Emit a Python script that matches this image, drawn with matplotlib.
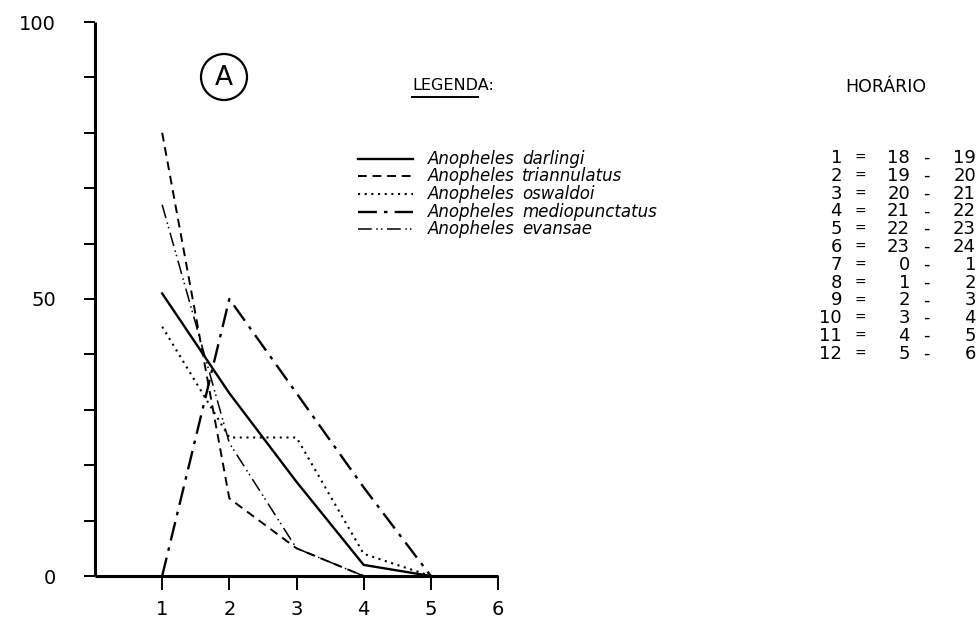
import matplotlib
matplotlib.use("Agg")
import matplotlib.pyplot as plt
from matplotlib.lines import Line2D
from matplotlib.patches import Ellipse

# ---- data ----
x_hours = [1, 2, 3, 4, 5]
species = ["darlingi", "triannulatus", "oswaldoi", "mediopunctatus", "evansae"]
darlingi = [51, 33, 17, 2, 0]
triannulatus = [80, 14, 5, 0, 0]
oswaldoi = [45, 25, 25, 4, 0]
mediopunctatus = [0, 50, 33, 16, 0]
evansae = [67, 24, 5, 0, 0]
series = [darlingi, triannulatus, oswaldoi, mediopunctatus, evansae]

x_ticks = [1, 2, 3, 4, 5, 6]
y_ticks = [0, 10, 20, 30, 40, 50, 60, 70, 80, 90, 100]
y_labels = ["0", "", "", "", "", "50", "", "", "", "", "100"]

hour_index = [1, 2, 3, 4, 5, 6, 7, 8, 9, 10, 11, 12]
start_hours = [18, 19, 20, 21, 22, 23, 0, 1, 2, 3, 4, 5]
end_hours = [19, 20, 21, 22, 23, 24, 1, 2, 3, 4, 5, 6]

# ---- styles ----
styles = [
    dict(ls="-", lw=1.7),
    dict(ls=(0, (4.5, 3)), lw=1.4),
    dict(ls=(0, (1, 2.2)), lw=1.5),
    dict(ls=(0, (8, 3, 1.5, 3)), lw=1.7),
    dict(ls=(0, (9, 3, 1, 2, 1, 3)), lw=1.1),
]

W, H = 979, 622
fig = plt.figure(figsize=(W / 100, H / 100), dpi=100)
plt.rcParams["font.family"] = ["DejaVu Sans"]

def fx(px):
    return px / W

def fy(py):
    return 1 - py / H

ax = fig.add_axes([fx(95), fy(576), fx(498) - fx(95), fy(22) - fy(576)])
ax.set_xlim(0, 6)
ax.set_ylim(0, 100)
for s, st in zip(series, styles):
    ax.plot(x_hours, s, color="black", solid_joinstyle="miter", **st)

for sp in ["top", "right"]:
    ax.spines[sp].set_visible(False)
for sp in ["left", "bottom"]:
    ax.spines[sp].set_linewidth(2.2)
    ax.spines[sp].set_capstyle("butt")
ax.set_xticks(x_ticks)
ax.set_xticklabels([str(v) for v in x_ticks], fontsize=14)
ax.set_yticks(y_ticks)
ax.set_yticklabels(y_labels, fontsize=14)
ax.tick_params(axis="y", direction="out", length=8, width=1.4, pad=20)
ax.tick_params(axis="x", direction="out", length=10, width=1.4, pad=7)
ax.patch.set_visible(False)

# circled A
fig.patches.append(Ellipse((fx(224), fy(77)), 46 / W, 46 / H, transform=fig.transFigure,
                           fill=False, ec="black", lw=1.6))
fig.text(fx(224), fy(78), "A", ha="center", va="center", fontsize=19)

# legend
fig.text(fx(412), fy(85), "LEGENDA:", ha="left", va="center", fontsize=11.5)
fig.add_artist(Line2D([fx(412), fx(478)], [fy(97), fy(97)], color="black", lw=1.4,
                      transform=fig.transFigure))
row_y = [159, 176, 194, 212, 229]
for i, (sp, st) in enumerate(zip(species, styles)):
    yy = fy(row_y[i])
    fig.add_artist(Line2D([fx(358), fx(413)], [yy, yy], color="black",
                          transform=fig.transFigure, **st))
    fig.text(fx(428), yy, "Anopheles", ha="left", va="center", fontsize=12,
             style="italic")
    fig.text(fx(522), yy, sp, ha="left", va="center", fontsize=12, style="italic")

# horario
fig.text(fx(886), fy(87), "HORÁRIO", ha="center", va="center", fontsize=12.5)
for i, (n, a, b) in enumerate(zip(hour_index, start_hours, end_hours)):
    yy = fy(158 + i * 17.8)
    fig.text(fx(842), yy, str(n), ha="right", va="center", fontsize=13)
    fig.text(fx(860), yy, "=", ha="center", va="center", fontsize=10)
    fig.text(fx(910), yy, str(a), ha="right", va="center", fontsize=13)
    fig.text(fx(926), yy, "-", ha="center", va="center", fontsize=13)
    fig.text(fx(976), yy, str(b), ha="right", va="center", fontsize=13)

fig.savefig("out.png", dpi=100)
